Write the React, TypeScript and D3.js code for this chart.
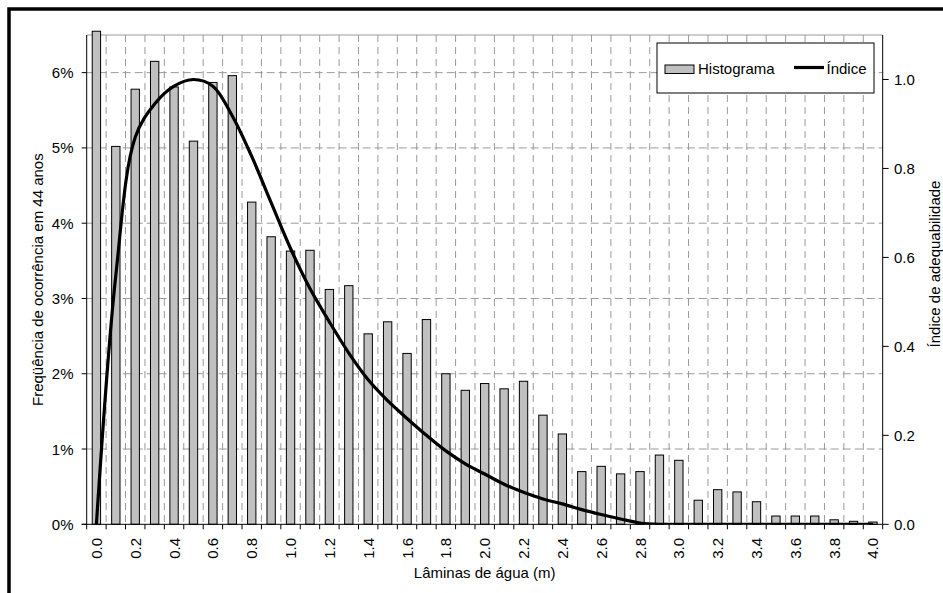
import React from "react";
import * as d3 from "d3";

const categories = [
  "0.0","0.1","0.2","0.3","0.4","0.5","0.6","0.7","0.8","0.9",
  "1.0","1.1","1.2","1.3","1.4","1.5","1.6","1.7","1.8","1.9",
  "2.0","2.1","2.2","2.3","2.4","2.5","2.6","2.7","2.8","2.9",
  "3.0","3.1","3.2","3.3","3.4","3.5","3.6","3.7","3.8","3.9","4.0",
];

// Frequency of occurrence (%)
const histograma = [
  6.55, 5.02, 5.78, 6.15, 5.81, 5.09, 5.87, 5.96, 4.28, 3.82,
  3.63, 3.64, 3.12, 3.17, 2.53, 2.69, 2.27, 2.72, 2.0, 1.78,
  1.87, 1.8, 1.9, 1.45, 1.2, 0.7, 0.77, 0.67, 0.7, 0.92,
  0.85, 0.32, 0.46, 0.43, 0.3, 0.11, 0.11, 0.11, 0.06, 0.04, 0.03,
];

// Suitability index
const indice = [
  0, 0.56, 0.87, 0.945, 0.985, 1.0, 0.985, 0.918, 0.827, 0.723,
  0.62, 0.53, 0.455, 0.385, 0.325, 0.278, 0.238, 0.2, 0.165, 0.136,
  0.113, 0.09, 0.072, 0.057, 0.046, 0.033, 0.022, 0.012, 0.003, 0,
  0, 0, 0, 0, 0, 0, 0, 0, 0, 0, 0,
];

const leftTicks = [0, 1, 2, 3, 4, 5, 6];
const rightTicks = [0, 0.2, 0.4, 0.6, 0.8, 1.0];
const xLabelEvery = 2;

const W = 943;
const H = 593;
const L = 86.7;
const R = 882.7;
const T = 35;
const B = 524.3;
const FONT = "'Liberation Sans', Arial, sans-serif";
const FS = 15;

export default function App() {
  const x = d3
    .scaleBand<string>()
    .domain(categories)
    .range([L, R])
    .paddingInner(0.57)
    .paddingOuter(0.285);
  const step = x.step();
  const yL = d3.scaleLinear().domain([0, 6.5]).range([B, T]);
  const yR = d3.scaleLinear().domain([0, 1.1]).range([B, T]);

  const center = (c: string) => (x(c) as number) + x.bandwidth() / 2;
  const boundaries = d3.range(categories.length + 1).map((i) => L + i * step);

  const line = d3
    .line<number>()
    .x((_, i) => center(categories[i]))
    .y((d) => yR(d))
    .curve(d3.curveCatmullRom.alpha(0.5));

  const gridColor = "#9a9a9a";

  return (
    <div style={{ position: "fixed", left: 0, top: 0 }}>
      <svg width={W} height={H} style={{ display: "block", background: "#fff" }} fontFamily={FONT}>
        <defs>
          <clipPath id="plotClip">
            <rect x={L} y={T - 4} width={R - L} height={B - T + 4} />
          </clipPath>
        </defs>
        <rect x={0} y={0} width={W} height={H} fill="#fff" />
        {/* gridlines */}
        {boundaries.slice(1, -1).map((bx, i) => (
          <line key={"vg" + i} x1={bx} x2={bx} y1={T} y2={B} stroke={gridColor} strokeWidth={1} strokeDasharray="7,5" />
        ))}
        {leftTicks.slice(1).map((t) => (
          <line key={"hg" + t} x1={L} x2={R} y1={yL(t)} y2={yL(t)} stroke={gridColor} strokeWidth={1} strokeDasharray="8,4" />
        ))}
        <line x1={L} x2={R} y1={T} y2={T} stroke={gridColor} strokeWidth={1} />

        {/* bars */}
        {histograma.map((v, i) => (
          <rect
            key={"b" + i}
            x={x(categories[i]) as number}
            y={yL(v)}
            width={x.bandwidth()}
            height={B - yL(v)}
            fill="#c0c0c0"
            stroke="#000"
            strokeWidth={1}
          />
        ))}

        {/* index line */}
        <path
          d={line(indice) || ""}
          fill="none"
          stroke="#000"
          strokeWidth={3.2}
          strokeLinejoin="round"
          clipPath="url(#plotClip)"
        />

        {/* axes */}
        <line x1={L} x2={L} y1={T} y2={B} stroke="#000" strokeWidth={1} />
        <line x1={R} x2={R} y1={T} y2={B} stroke="#000" strokeWidth={1} />
        <line x1={L - 5} x2={R} y1={B} y2={B} stroke="#000" strokeWidth={1} />

        {boundaries.map((bx, i) => (
          <line key={"xt" + i} x1={bx} x2={bx} y1={B} y2={B + 5} stroke="#000" strokeWidth={1} />
        ))}
        {categories.map((c, i) =>
          i % xLabelEvery === 0 ? (
            <text
              key={"xl" + i}
              transform={`translate(${center(c)},${538}) rotate(-90)`}
              textAnchor="end"
              dominantBaseline="central"
              fontSize={FS}
              fill="#000"
            >
              {c}
            </text>
          ) : null
        )}

        {leftTicks.map((t) => (
          <g key={"lt" + t}>
            <line x1={L - 5} x2={L} y1={yL(t)} y2={yL(t)} stroke="#000" strokeWidth={1} />
            <text x={73.5} y={yL(t)} textAnchor="end" dominantBaseline="central" fontSize={FS} fill="#000">
              {t + "%"}
            </text>
          </g>
        ))}

        {rightTicks.map((t) => (
          <g key={"rt" + t}>
            <line x1={R} x2={R + 6} y1={yR(t)} y2={yR(t)} stroke="#000" strokeWidth={1} />
            <text x={894} y={yR(t)} textAnchor="start" dominantBaseline="central" fontSize={FS} fill="#000">
              {d3.format(".1f")(t)}
            </text>
          </g>
        ))}

        {/* axis titles */}
        <text x={(L + R) / 2} y={578} textAnchor="middle" fontSize={FS} fill="#000">
          Lâminas de água (m)
        </text>
        <text transform={`translate(42.5,${(T + B) / 2}) rotate(-90)`} textAnchor="middle" fontSize={FS} fill="#000">
          Freqüência de ocorrência em 44 anos
        </text>
        <text transform={`translate(940,264) rotate(-90)`} textAnchor="middle" fontSize={FS} fill="#000">
          Índice de adequabilidade
        </text>

        {/* legend */}
        <g>
          <rect x={657} y={43} width={217} height={50} fill="#fff" stroke="#000" strokeWidth={1} />
          <rect x={665} y={65} width={29} height={8.5} fill="#c0c0c0" stroke="#000" strokeWidth={1} />
          <text x={698} y={73.5} fontSize={FS} fill="#000">Histograma</text>
          <line x1={794} x2={824} y1={67.5} y2={67.5} stroke="#000" strokeWidth={3.2} />
          <text x={826.5} y={73.5} fontSize={FS} fill="#000">Índice</text>
        </g>

        {/* outer frame */}
        <rect x={9} y={9} width={1000} height={1000} fill="none" stroke="#000" strokeWidth={3.5} />
      </svg>
    </div>
  );
}
